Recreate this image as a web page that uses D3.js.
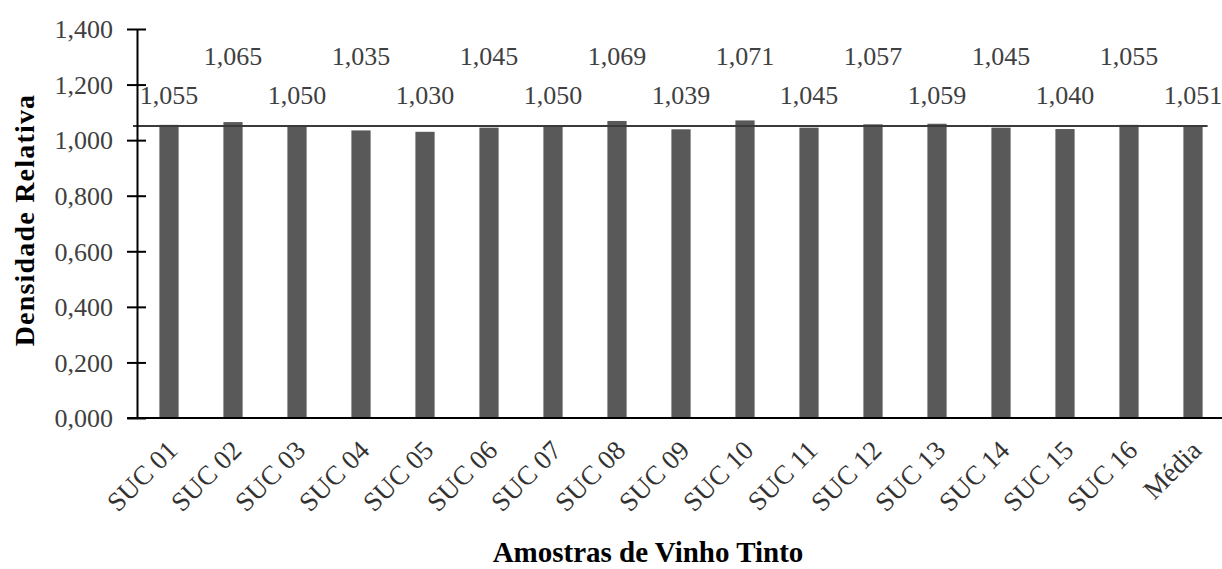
<!DOCTYPE html>
<html>
<head>
<meta charset="utf-8">
<script src="https://cdn.jsdelivr.net/npm/d3@7/dist/d3.min.js"></script>
<style>
  html, body { margin: 0; padding: 0; background: #fff; }
  svg { display: block; }
  text { font-family: "Liberation Serif", "Times New Roman", serif; }
</style>
</head>
<body>
<svg id="chart" width="1222" height="569"></svg>
<script>
const categories = ["SUC 01","SUC 02","SUC 03","SUC 04","SUC 05","SUC 06","SUC 07","SUC 08",
                    "SUC 09","SUC 10","SUC 11","SUC 12","SUC 13","SUC 14","SUC 15","SUC 16","Média"];
const densidade = [1.055,1.065,1.050,1.035,1.030,1.045,1.050,1.069,
                   1.039,1.071,1.045,1.057,1.059,1.045,1.040,1.055,1.051];
const mediaValue = 1.051;
const yTicks = [0,0.2,0.4,0.6,0.8,1.0,1.2,1.4];
const yTitle = "Densidade Relativa";
const xTitle = "Amostras de Vinho Tinto";

(function () {
const fmt = v => d3.format(".3f")(v).replace(".", ",");

const svg = d3.select("#chart");
const mLeft = 137, mRight = 1225, mTop = 29, mBottom = 418;

const x = d3.scaleBand().domain(categories).range([mLeft, mRight])
  .paddingInner(0.7).paddingOuter(0.35);
const y = d3.scaleLinear().domain([0, 1.4]).range([mBottom, mTop]);

// bars
svg.append("g").selectAll("rect").data(categories).join("rect")
  .attr("x", d => x(d))
  .attr("width", x.bandwidth())
  .attr("y", (d, i) => y(densidade[i]))
  .attr("height", (d, i) => y(0) - y(densidade[i]))
  .attr("fill", "#595959");

// mean line
svg.append("line")
  .attr("x1", mLeft - 4)
  .attr("x2", x(categories[categories.length - 1]) + x.bandwidth() + 5)
  .attr("y1", y(mediaValue)).attr("y2", y(mediaValue))
  .attr("stroke", "#3a3a3a").attr("stroke-width", 2);

// y axis
const yAxis = d3.axisLeft(y).tickValues(yTicks).tickFormat(fmt)
  .tickSizeInner(10).tickSizeOuter(0).tickPadding(14);
const gy = svg.append("g").attr("transform", `translate(${mLeft},0)`).call(yAxis);
gy.select(".domain").attr("stroke", "#000").attr("stroke-width", 2);
gy.selectAll(".tick line").attr("stroke", "#000").attr("stroke-width", 2)
  .attr("x1", 9);
gy.selectAll(".tick text").attr("font-size", 26).attr("fill", "#404040")
  .attr("font-family", "Liberation Serif").attr("dy", "0.34em");

// x axis line
svg.append("line").attr("x1", mLeft - 10).attr("x2", 1222)
  .attr("y1", mBottom).attr("y2", mBottom)
  .attr("stroke", "#000").attr("stroke-width", 2);

// x labels
svg.append("g").selectAll("text").data(categories).join("text")
  .attr("transform", d => `translate(${x(d) + x.bandwidth() / 2 + 10},452) rotate(-45)`)
  .attr("text-anchor", "end")
  .attr("font-size", 27)
  .attr("fill", "#333")
  .text(d => d);

// data labels (alternating heights)
svg.append("g").selectAll("text").data(categories).join("text")
  .attr("x", d => x(d) + x.bandwidth() / 2)
  .attr("y", (d, i) => i % 2 === 0 ? 104 : 65)
  .attr("text-anchor", "middle")
  .attr("font-size", 26)
  .attr("fill", "#404040")
  .text((d, i) => fmt(densidade[i]));

// titles
svg.append("text")
  .attr("transform", "translate(34,220) rotate(-90)")
  .attr("text-anchor", "middle")
  .attr("font-size", 28).attr("font-weight", "bold")
  .attr("letter-spacing", 1.2)
  .attr("fill", "#000")
  .text(yTitle);

svg.append("text")
  .attr("x", 648).attr("y", 562)
  .attr("text-anchor", "middle")
  .attr("font-size", 29).attr("font-weight", "bold")
  .attr("fill", "#000")
  .text(xTitle);
})();
</script>
</body>
</html>
